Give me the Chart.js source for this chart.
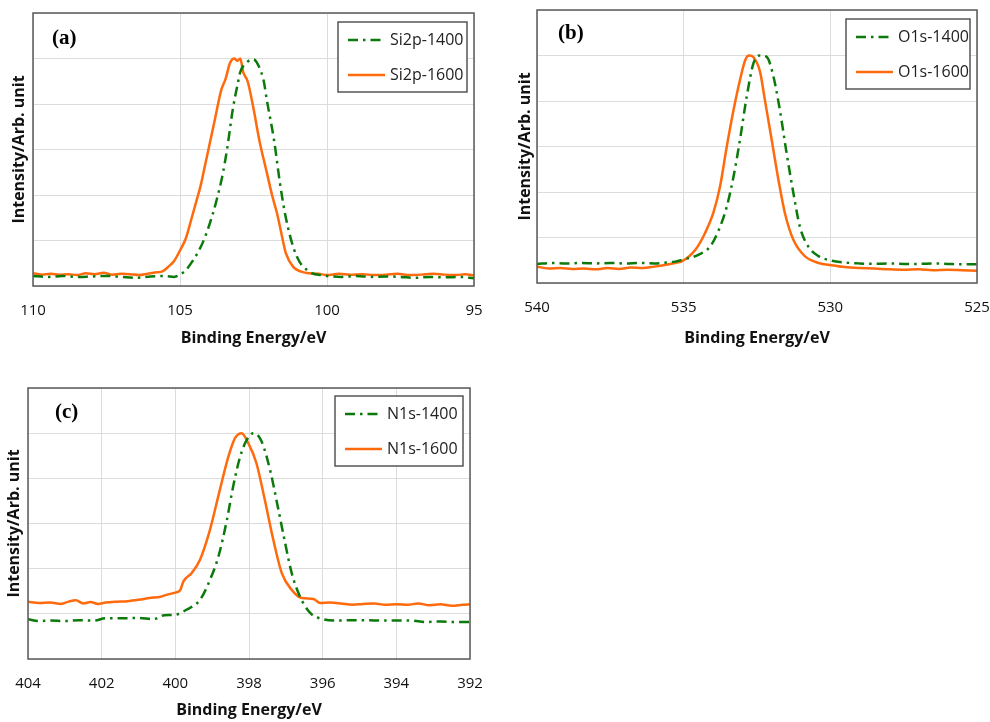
<!DOCTYPE html>
<html>
<head>
<meta charset="utf-8">
<script src="https://cdn.jsdelivr.net/npm/chart.js@4.4.1/dist/chart.umd.min.js"></script>
<style>
  body { margin: 0; background: #fff; width: 990px; height: 722px; position: relative; overflow: hidden; }
  .panel { position: absolute; }
</style>
</head>
<body>
<div class="panel" style="left:0;top:0;width:495px;height:350px"><canvas id="chartA"></canvas></div>
<div class="panel" style="left:495px;top:0;width:495px;height:350px"><canvas id="chartB"></canvas></div>
<div class="panel" style="left:0;top:380px;width:495px;height:342px"><canvas id="chartC"></canvas></div>
<script>
// (a) Si2p
var siE1400 = [110,109.5,109,108.5,108,107.5,107,106.5,106,105.5,105.2,105,104.8,104.55,104.3,104.1,103.9,103.75,103.55,103.4,103.2,103.05,102.95,102.7,102.5,102.3,102.15,102.05,101.8,101.6,101.4,101.15,100.95,100.8,100.5,100.2,100,99.5,99,98.5,98,97.5,97,96.5,96,95.5,95];
var siI1400 = [0.22,0.2,0.22,0.2,0.21,0.22,0.2,0.18,0.21,0.22,0.2,0.25,0.35,0.57,0.85,1.16,1.55,1.9,2.45,3.0,3.9,4.4,4.7,4.93,4.98,4.8,4.5,4.1,3.2,2.26,1.5,0.86,0.55,0.42,0.28,0.24,0.22,0.2,0.22,0.2,0.21,0.2,0.18,0.2,0.19,0.2,0.17];
var siE1600 = [110,109.7,109.4,109.1,108.8,108.5,108.2,107.9,107.6,107.3,107,106.7,106.4,106.1,105.8,105.6,105.4,105.2,105,104.8,104.6,104.45,104.3,104.15,104,103.8,103.6,103.45,103.3,103.15,103.05,102.95,102.85,102.7,102.5,102.3,102.05,101.85,101.7,101.55,101.4,101.15,100.9,100.6,100.3,100,99.6,99.2,98.8,98.4,98,97.6,97.2,96.8,96.4,96,95.6,95.3,95];
var siI1600 = [0.28,0.25,0.27,0.25,0.26,0.24,0.28,0.26,0.29,0.25,0.27,0.26,0.24,0.27,0.3,0.32,0.42,0.55,0.78,1.05,1.5,1.85,2.2,2.65,3.1,3.7,4.3,4.55,4.9,5.0,4.95,5.0,4.7,4.5,3.9,3.2,2.5,1.95,1.6,1.15,0.72,0.42,0.32,0.28,0.27,0.24,0.27,0.25,0.26,0.24,0.25,0.27,0.24,0.25,0.27,0.25,0.24,0.26,0.23];

// (b) O1s
var oE1400 = [540,539.5,539,538.5,538,537.5,537,536.5,536,535.6,535.3,535.06,534.5,534.1,533.8,533.53,533.3,533.08,532.85,532.62,532.4,532.17,531.94,531.72,531.49,531.26,531.04,530.75,530.4,529.96,529.5,529,528.5,528,527.5,527,526.5,526,525.5,525];
var oI1400 = [0.42,0.44,0.43,0.44,0.43,0.44,0.43,0.44,0.43,0.45,0.47,0.51,0.62,0.8,1.17,1.68,2.34,3.15,4.1,4.83,5.0,4.97,4.54,3.8,2.85,1.98,1.24,0.8,0.59,0.49,0.45,0.43,0.42,0.43,0.42,0.42,0.43,0.42,0.41,0.41];
var oE1600 = [540,539.6,539.2,538.8,538.4,538,537.6,537.2,536.8,536.4,536,535.6,535.3,535.05,534.6,534.27,533.99,533.76,533.53,533.3,533.08,532.9,532.77,532.62,532.4,532.23,532,531.77,531.55,531.26,530.87,530.4,529.96,529.5,529,528.5,528,527.5,527,526.5,526,525.5,525];
var oI1600 = [0.36,0.32,0.33,0.31,0.32,0.3,0.33,0.31,0.34,0.33,0.36,0.4,0.44,0.48,0.73,1.1,1.54,2.12,3.0,3.8,4.46,4.9,5.0,4.96,4.65,4.02,3.15,2.27,1.54,0.95,0.59,0.44,0.39,0.35,0.33,0.32,0.3,0.29,0.3,0.28,0.29,0.28,0.27];

// (c) N1s
var nE1400 = [404,403.7,403.4,403,402.6,402.2,401.9,401.5,401,400.6,400.3,400,399.7,399.33,399.06,398.83,398.6,398.43,398.24,398.06,397.88,397.66,397.43,397.2,397.02,396.84,396.62,396.34,395.98,395.6,395.2,394.8,394.4,394,393.6,393.2,392.8,392.4,392];
var nI1400 = [0.88,0.84,0.85,0.84,0.86,0.85,0.9,0.9,0.91,0.88,0.97,0.98,1.09,1.31,1.75,2.27,3.08,3.82,4.48,4.85,5.0,4.82,4.19,3.3,2.57,1.9,1.39,1.02,0.88,0.85,0.86,0.86,0.85,0.85,0.85,0.82,0.83,0.82,0.82];
var nE1600 = [404,403.7,403.4,403.1,402.9,402.7,402.5,402.3,402.1,401.9,401.6,401.3,401,400.7,400.4,400.24,400,399.87,399.78,399.56,399.33,399.06,398.79,398.56,398.38,398.2,398.02,397.8,397.57,397.34,397.11,396.84,396.57,396.25,396.07,395.8,395.5,395.2,394.9,394.6,394.3,394,393.7,393.4,393.1,392.8,392.5,392.2,392];
var nI1600 = [1.27,1.24,1.25,1.22,1.27,1.3,1.23,1.26,1.22,1.25,1.27,1.28,1.31,1.35,1.38,1.42,1.47,1.52,1.72,1.9,2.2,2.86,3.75,4.48,4.89,5.0,4.78,4.34,3.52,2.64,1.9,1.53,1.35,1.33,1.24,1.25,1.23,1.2,1.22,1.23,1.2,1.21,1.2,1.23,1.19,1.21,1.18,1.2,1.21];

function pts(xs, ys) {
  var out = [];
  for (var i = 0; i < xs.length; i++) out.push({x: xs[i], y: ys[i]});
  return out;
}

var GREEN = "#0b7a0b";
var ORANGE = "#ff6a0d";
var DASHDOT = [10, 5, 2.5, 5];

// frame + legend box + panel letter
var decor = {
  id: "decor",
  afterDraw: function(chart) {
    var c = chart.ctx, a = chart.chartArea, o = chart.options.plugins.decor;
    c.save();
    c.strokeStyle = "#5a5a5a";
    c.lineWidth = 1.5;
    c.strokeRect(a.left, a.top, a.right - a.left, a.bottom - a.top);

    // legend
    var bx = o.box[0], by = o.box[1], bw = o.box[2], bh = o.box[3];
    c.fillStyle = "#fff";
    c.fillRect(bx, by, bw, bh);
    c.strokeStyle = "#555";
    c.lineWidth = 1.5;
    c.strokeRect(bx, by, bw, bh);
    c.font = "16px 'Open Sans', sans-serif";
    c.textBaseline = "middle";
    chart.data.datasets.forEach(function(ds, i) {
      var yy = by + 18 + i * 35;
      c.strokeStyle = ds.borderColor;
      c.lineWidth = 2.5;
      c.setLineDash(ds.borderDash || []);
      c.beginPath();
      c.moveTo(bx + 10, yy);
      c.lineTo(bx + 47, yy);
      c.stroke();
      c.setLineDash([]);
      c.fillStyle = "#222";
      c.fillText(ds.label, bx + 52, yy);
    });

    c.fillStyle = "#000";
    c.font = "bold 21px 'Liberation Serif', 'Times New Roman', serif";
    c.fillText(o.tag, o.tagPos[0], o.tagPos[1]);
    c.restore();
  }
};

function makeChart(id, p) {
  new Chart(document.getElementById(id), {
    type: "line",
    data: {
      datasets: [
        {
          label: p.names[0],
          data: pts(p.e1, p.i1),
          borderColor: GREEN,
          borderWidth: 2.5,
          borderDash: DASHDOT,
          pointRadius: 0,
          cubicInterpolationMode: "monotone",
          fill: false
        },
        {
          label: p.names[1],
          data: pts(p.e2, p.i2),
          borderColor: ORANGE,
          borderWidth: 2.5,
          pointRadius: 0,
          cubicInterpolationMode: "monotone",
          fill: false
        }
      ]
    },
    options: {
      responsive: true,
      maintainAspectRatio: false,
      animation: false,
      layout: { padding: { top: p.pad[0], right: p.pad[1], bottom: 0, left: 0 } },
      plugins: {
        legend: { display: false },
        tooltip: { enabled: false },
        decor: { box: p.box, tag: p.tag, tagPos: p.tagPos }
      },
      scales: {
        x: {
          type: "linear",
          reverse: true,
          min: p.xmin,
          max: p.xmax,
          ticks: { stepSize: p.step, color: "#111", padding: 16, font: { size: 15, family: "'Open Sans', sans-serif" } },
          grid: { color: "#dcdcdc", lineWidth: 1, drawTicks: false },
          border: { display: false },
          title: {
            display: true,
            text: "Binding Energy/eV",
            color: "#111",
            font: { size: 16, weight: "bold", family: "'Open Sans', sans-serif" },
            padding: { top: 0, bottom: 2 }
          },
          afterFit: function(s) { s.height = p.xh; s.paddingLeft = 0; s.paddingRight = 0; }
        },
        y: {
          min: 0,
          max: 6,
          ticks: { stepSize: 1, display: false },
          grid: { color: "#dcdcdc", lineWidth: 1, drawTicks: false },
          border: { display: false },
          title: {
            display: true,
            text: "Intensity/Arb. unit",
            color: "#111",
            font: { size: 16, weight: "bold", family: "'Open Sans', sans-serif" },
            padding: { top: p.ytp, bottom: 0 }
          },
          afterFit: function(s) { s.width = p.yw; s.paddingTop = 0; s.paddingBottom = 0; }
        }
      }
    },
    plugins: [decor]
  });
}

makeChart("chartA", {
  names: ["Si2p-1400", "Si2p-1600"], e1: siE1400, i1: siI1400, e2: siE1600, i2: siI1600,
  xmin: 95, xmax: 110, step: 5, pad: [13, 21], xh: 64, yw: 33, ytp: 10,
  box: [338, 22, 129, 70], tag: "(a)", tagPos: [52, 39]
});
makeChart("chartB", {
  names: ["O1s-1400", "O1s-1600"], e1: oE1400, i1: oI1400, e2: oE1600, i2: oI1600,
  xmin: 525, xmax: 540, step: 5, pad: [10, 13], xh: 67, yw: 42, ytp: 21,
  box: [351, 19, 124, 70], tag: "(b)", tagPos: [63, 34]
});
makeChart("chartC", {
  names: ["N1s-1400", "N1s-1600"], e1: nE1400, i1: nI1400, e2: nE1600, i2: nI1600,
  xmin: 392, xmax: 404, step: 2, pad: [8, 25], xh: 63, yw: 28, ytp: 5,
  box: [335, 16, 128, 70], tag: "(c)", tagPos: [55, 33]
});
</script>
</body>
</html>
